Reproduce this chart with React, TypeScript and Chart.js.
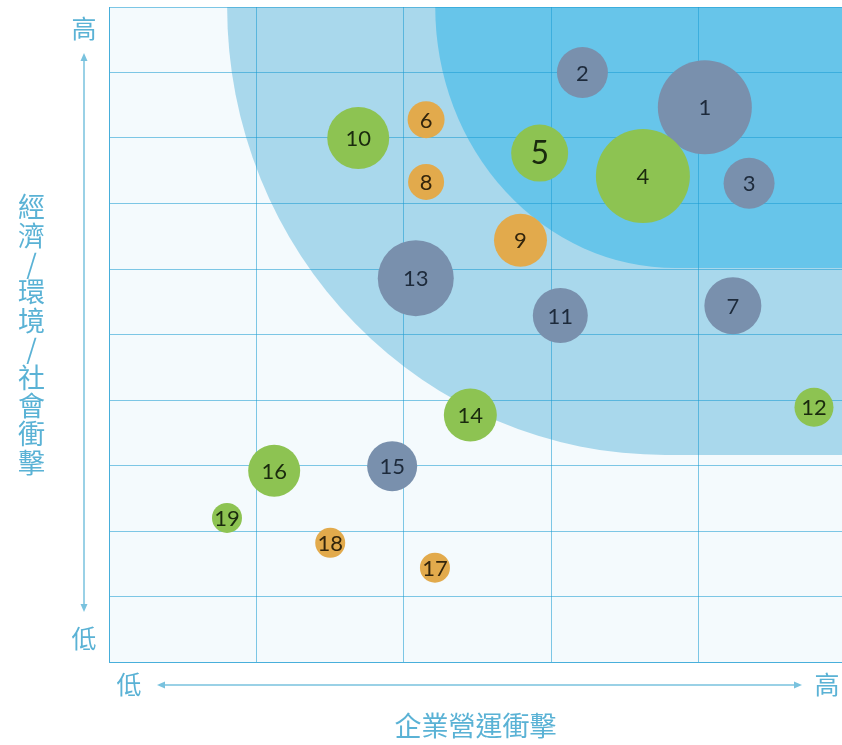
import React, { useEffect, useRef } from 'react';
import { Chart, registerables } from 'chart.js';

Chart.register(...registerables);

// ---- Data ----
const ids = ['1', '2', '3', '4', '5', '6', '7', '8', '9', '10', '11', '12', '13', '14', '15', '16', '17', '18', '19'];
const xValues = [4.04, 3.21, 4.34, 3.62, 2.92, 2.15, 4.23, 2.15, 2.79, 1.69, 3.06, 4.78, 2.08, 2.45, 1.92, 1.12, 2.21, 1.5, 0.8];
const yValues = [8.47, 9.0, 7.31, 7.42, 7.77, 8.28, 5.44, 7.33, 6.44, 8.0, 5.29, 3.89, 5.86, 3.77, 2.99, 2.92, 1.44, 1.82, 2.2];
const sizes = [47, 25.5, 25.5, 47, 28.5, 18.5, 28.5, 18, 26.5, 31, 27.5, 19.5, 38, 26.5, 25, 26, 15, 15, 15];
const groups = ['A', 'A', 'A', 'B', 'B', 'C', 'A', 'C', 'C', 'B', 'A', 'B', 'A', 'B', 'A', 'B', 'C', 'C', 'B'];

const xTicks = [0, 1, 2, 3, 4];
const xMax = 4.97;
const yMin = 0;
const yMax = 10;

// Impact zones (data units): quarter-ellipse corner anchored at the top edge
const outerZone = { cx: 3.772, cy: 10, rx: 2.971, ry: 6.84 };
const innerZone = { cx: 3.84, cy: 10, rx: 1.628, ry: 3.985 };

const lowLabel = '低';
const highLabel = '高';
const yAxisTitle = ['經', '濟', '/', '環', '境', '/', '社', '會', '衝', '擊'];
const xAxisTitle = '企業營運衝擊';

// ---- Styles ----
const groupColors: Record<string, string> = { A: '#7990ad', B: '#8dc352', C: '#e2aa4c' };
const groupTextColors: Record<string, string> = { A: '#1d2a3b', B: '#1a2a0e', C: '#33250c' };
const bigLabel = '5';
const textBlue = '#5ab2d5';
const arrowBlue = '#79c2de';
const cjkFont = '"Noto Sans CJK TC", "Noto Sans CJK SC", sans-serif';

function drawZone(ctx: CanvasRenderingContext2D, chart: any, z: any, color: string) {
  const xs = chart.scales.x;
  const ys = chart.scales.y;
  const area = chart.chartArea;
  const cx = xs.getPixelForValue(z.cx);
  const cy = ys.getPixelForValue(z.cy);
  const rx = cx - xs.getPixelForValue(z.cx - z.rx);
  const ry = ys.getPixelForValue(z.cy - z.ry) - cy;
  ctx.save();
  ctx.beginPath();
  ctx.rect(area.left, area.top, area.right - area.left, area.bottom - area.top);
  ctx.clip();
  ctx.beginPath();
  ctx.moveTo(cx - rx, cy);
  ctx.ellipse(cx, cy, rx, ry, 0, Math.PI, Math.PI / 2, true);
  ctx.lineTo(area.right + 20, cy + ry);
  ctx.lineTo(area.right + 20, cy);
  ctx.closePath();
  ctx.fillStyle = color;
  ctx.fill();
  ctx.restore();
}

const backgroundPlugin = {
  id: 'zones',
  beforeDraw(chart: any) {
    const ctx = chart.ctx;
    const a = chart.chartArea;
    ctx.save();
    ctx.fillStyle = '#ffffff';
    ctx.fillRect(0, 0, chart.width, chart.height);
    ctx.fillStyle = '#f4fafd';
    ctx.fillRect(a.left, a.top, a.right - a.left, a.bottom - a.top);
    ctx.restore();
    drawZone(ctx, chart, outerZone, '#a9d8ec');
    drawZone(ctx, chart, innerZone, '#67c5ea');
  },
};

function arrowHead(ctx: CanvasRenderingContext2D, x: number, y: number, dir: 'up' | 'down' | 'left' | 'right') {
  const L = 8;
  const W = 3.5;
  ctx.beginPath();
  if (dir === 'up') {
    ctx.moveTo(x, y); ctx.lineTo(x - W, y + L); ctx.lineTo(x + W, y + L);
  } else if (dir === 'down') {
    ctx.moveTo(x, y); ctx.lineTo(x - W, y - L); ctx.lineTo(x + W, y - L);
  } else if (dir === 'left') {
    ctx.moveTo(x, y); ctx.lineTo(x + L, y - W); ctx.lineTo(x + L, y + W);
  } else {
    ctx.moveTo(x, y); ctx.lineTo(x - L, y - W); ctx.lineTo(x - L, y + W);
  }
  ctx.closePath();
  ctx.fill();
}

const labelsPlugin = {
  id: 'bubbleLabels',
  afterDatasetsDraw(chart: any) {
    const ctx = chart.ctx;
    const meta = chart.getDatasetMeta(0);
    ctx.save();
    ctx.textAlign = 'center';
    ctx.textBaseline = 'middle';
    meta.data.forEach((el: any, i: number) => {
      const id = ids[i];
      const size = id === bigLabel ? 32 : 22;
      ctx.font = `${size}px Lato, "Open Sans", sans-serif`;
      ctx.fillStyle = groupTextColors[groups[i]];
      ctx.fillText(id, el.x, el.y + 1);
    });
    ctx.restore();
  },
  afterDraw(chart: any) {
    const ctx = chart.ctx;
    const a = chart.chartArea;
    ctx.save();
    ctx.fillStyle = textBlue;
    ctx.textAlign = 'center';
    ctx.textBaseline = 'middle';
    // vertical axis low/high
    const vx = a.left - 25;
    ctx.font = `25px ${cjkFont}`;
    ctx.fillText(highLabel, vx, a.top + 21);
    ctx.fillText(lowLabel, vx, a.bottom - 24);
    // horizontal axis low/high
    const hy = a.bottom + 22;
    ctx.fillText(lowLabel, a.left + 20, hy);
    ctx.fillText(highLabel, a.right - 15, hy);
    // arrows
    ctx.strokeStyle = arrowBlue;
    ctx.fillStyle = arrowBlue;
    ctx.lineWidth = 1.5;
    ctx.beginPath();
    ctx.moveTo(vx, a.top + 50);
    ctx.lineTo(vx, a.bottom - 54);
    ctx.stroke();
    arrowHead(ctx, vx, a.top + 46, 'up');
    arrowHead(ctx, vx, a.bottom - 50, 'down');
    ctx.beginPath();
    ctx.moveTo(a.left + 50, hy + 1);
    ctx.lineTo(a.right - 44, hy + 1);
    ctx.stroke();
    arrowHead(ctx, a.left + 48, hy + 1, 'left');
    arrowHead(ctx, a.right - 40, hy + 1, 'right');
    // titles
    ctx.fillStyle = textBlue;
    ctx.font = `27px ${cjkFont}`;
    const tx = 31.5;
    const startY = 207;
    const step = 28.4;
    yAxisTitle.forEach((ch, i) => {
      ctx.fillText(ch, tx, startY + i * step);
    });
    ctx.font = `27px ${cjkFont}`;
    ctx.fillText(xAxisTitle, (a.left + a.right) / 2 + 0, a.bottom + 64);
    ctx.restore();
  },
};

export default function App() {
  const canvasRef = useRef<HTMLCanvasElement | null>(null);

  useEffect(() => {
    if (!canvasRef.current) return;
    const points = ids.map((_, i) => ({ x: xValues[i], y: yValues[i], r: sizes[i] }));
    const gridColor = 'rgba(25,155,210,0.55)';
    const chart = new Chart(canvasRef.current, {
      type: 'bubble',
      data: {
        datasets: [
          {
            label: 'issues',
            data: points,
            backgroundColor: groups.map((g) => groupColors[g]),
            borderWidth: 0,
            hoverBorderWidth: 0,
          },
        ],
      },
      options: {
        animation: false,
        responsive: false,
        devicePixelRatio: 1,
        events: [],
        layout: { autoPadding: false, padding: { left: 109, top: 7, right: 0, bottom: 83 } },
        plugins: { legend: { display: false }, tooltip: { enabled: false } },
        scales: {
          x: {
            type: 'linear',
            min: 0,
            max: xMax,
            afterBuildTicks: (scale: any) => {
              scale.ticks = xTicks.map((v) => ({ value: v }));
            },
            ticks: { display: false },
            grid: { color: gridColor, lineWidth: 1, drawTicks: false },
            border: { display: true, color: gridColor },
          },
          y: {
            type: 'linear',
            min: yMin,
            max: yMax,
            ticks: { display: false, stepSize: 1 },
            grid: { color: gridColor, lineWidth: 1, drawTicks: false },
            border: { display: true, color: gridColor },
          },
        },
      },
      plugins: [backgroundPlugin, labelsPlugin],
    });
    return () => chart.destroy();
  }, []);

  return (
    <div style={{ position: 'fixed', left: 0, top: 0, width: 842, height: 745, background: '#fff' }}>
      <canvas ref={canvasRef} width={842} height={745} style={{ display: 'block' }} />
    </div>
  );
}
